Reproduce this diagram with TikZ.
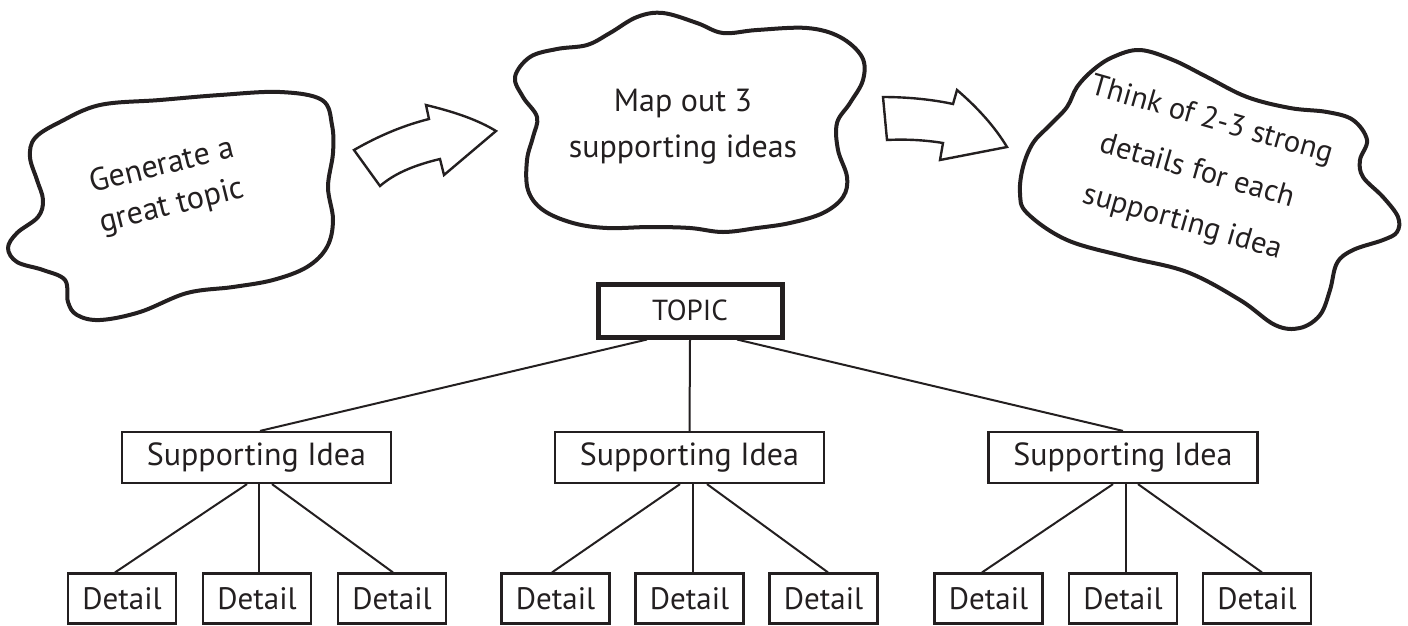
\documentclass[tikz,border=0pt]{standalone}
\usepackage{fontspec}
\setmainfont{PT Sans}
\definecolor{ink}{HTML}{231F20}
\begin{document}
\begin{tikzpicture}[x=1pt,y=-1pt,
  cloudline/.style={draw=ink, line width=4pt, line join=round},
  arrowline/.style={draw=ink, line width=2.4pt, line join=miter},
  cloudtext/.style={text=ink, align=center, inner sep=0pt},
  topicbox/.style={draw=ink, line width=5pt, inner sep=0pt, minimum width=184pt, minimum height=53pt, text=ink, font=\fontsize{29}{34}\selectfont},
  supbox/.style={draw=ink, line width=2.2pt, inner sep=0pt, minimum width=269pt, minimum height=51pt, text=ink, font=\fontsize{32}{36}\selectfont},
  detbox/.style={draw=ink, line width=2.2pt, inner sep=0pt, minimum width=108pt, minimum height=50pt, text=ink, font=\fontsize{31}{36}\selectfont},
  link/.style={draw=ink, line width=2pt}
]
\useasboundingbox (0,0) rectangle (1408,625);

% clouds
\draw[cloudline] plot[smooth cycle, tension=0.6] coordinates {
 (60,122) (100,105) (160,100) (220,95) (280,92) (322,100) (332,125) (333,153)
 (328,187) (333,220) (327,247) (307,267) (273,280) (233,287) (187,293) (140,312)
 (100,320) (77,315) (68,302) (65,280) (43,270) (17,262) (8,248) (17,233) (38,217)
 (43,200) (37,180) (30,157) (35,138)};
\draw[cloudline] plot[smooth cycle, tension=0.6] coordinates {
 (515,77) (530,57) (557,49) (587,45) (610,33) (637,17) (663,13) (697,23) (723,33)
 (757,30) (807,28) (840,37) (862,57) (863,80) (850,103) (837,123) (838,150) (847,177)
 (843,197) (823,213) (790,223) (757,228) (723,232) (690,228) (650,227) (607,228)
 (573,223) (543,210) (528,190) (527,160) (533,137) (537,117) (523,97)};
\draw[cloudline] plot[smooth cycle, tension=0.6] coordinates {
 (1077,87) (1093,70) (1113,57) (1140,50) (1173,60) (1207,77) (1247,97) (1290,108)
 (1327,112) (1353,120) (1367,140) (1360,160) (1363,177) (1383,197) (1398,217)
 (1397,232) (1383,240) (1353,250) (1337,263) (1330,290) (1320,315) (1300,328)
 (1275,325) (1240,300) (1187,272) (1127,257) (1067,240) (1027,213) (1020,193)
 (1023,167) (1033,143) (1050,125) (1067,107)};

\node[cloudtext, rotate=14, font=\fontsize{32}{41}\selectfont] (c1) at (167,187) {Generate a\\great topic};
\node[cloudtext, font=\fontsize{32}{46}\selectfont] (c2) at (683,127) {Map out 3\\supporting ideas};
\node[cloudtext, rotate=-16, font=\fontsize{30.5}{53}\selectfont] (c3) at (1197,172) {Think of 2-3 strong\\details for each\\supporting idea};

% block arrows
\draw[arrowline] (354,150) .. controls (380,135) and (405,125) .. (429,119) -- (426,105)
  .. controls (455,112) and (478,120) .. (496,131) -- (444,175) -- (440,159)
  .. controls (415,165) and (395,173) .. (380,186) -- cycle;
\draw[arrowline] (883,97) .. controls (910,97) and (935,100) .. (953,104) -- (957,90)
  .. controls (978,108) and (995,127) .. (1007,147) -- (940,160) -- (943,143)
  .. controls (925,140) and (905,139) .. (887,140) -- cycle;

% tree
\node[topicbox] (topic) at (690,310.5) {TOPIC};
\node[supbox] (s1) at (256.5,457.5) {Supporting Idea};
\node[supbox] (s2) at (689.5,457.5) {Supporting Idea};
\node[supbox] (s3) at (1123,457.5) {Supporting Idea};

\node[detbox] (d11) at (122,598.5) {Detail};
\node[detbox] (d12) at (257,598.5) {Detail};
\node[detbox] (d13) at (392,598.5) {Detail};
\node[detbox] (d21) at (555.5,598.5) {Detail};
\node[detbox] (d22) at (689.5,598.5) {Detail};
\node[detbox] (d23) at (823.5,598.5) {Detail};
\node[detbox] (d31) at (988.5,598.5) {Detail};
\node[detbox] (d32) at (1123,598.5) {Detail};
\node[detbox] (d33) at (1257,598.5) {Detail};

\draw[link] ([xshift=-43pt]topic.south) -- ([xshift=3.5pt]s1.north);
\draw[link] (topic.south) -- (s2.north);
\draw[link] ([xshift=47pt]topic.south) -- (s3.north);

\draw[link] ([xshift=-9.5pt]s1.south) -- ([xshift=-7pt]d11.north);
\draw[link] ([xshift=2.5pt]s1.south) -- ([xshift=2pt]d12.north);
\draw[link] ([xshift=15.5pt]s1.south) -- ([xshift=1pt]d13.north);

\draw[link] ([xshift=-9.5pt]s2.south) -- ([xshift=-3.5pt]d21.north);
\draw[link] ([xshift=3.5pt]s2.south) -- ([xshift=3.5pt]d22.north);
\draw[link] ([xshift=17.5pt]s2.south) -- ([xshift=4.5pt]d23.north);

\draw[link] ([xshift=-10pt]s3.south) -- ([xshift=-6.5pt]d31.north);
\draw[link] ([xshift=3pt]s3.south) -- ([xshift=3pt]d32.north);
\draw[link] ([xshift=15pt]s3.south) -- ([xshift=5pt]d33.north);
\end{tikzpicture}
\end{document}
